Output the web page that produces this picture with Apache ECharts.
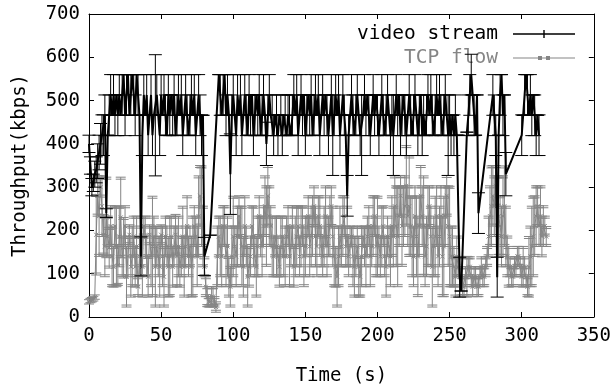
<!DOCTYPE html>
<html>
<head>
<meta charset="utf-8">
<script src="https://cdn.jsdelivr.net/npm/echarts@6/dist/echarts.min.js"></script>
<style>
  html, body { margin: 0; padding: 0; background: #fff; }
  #chart { width: 614px; height: 391px; }
</style>
</head>
<body>
<div id="chart"></div>
<script>
// video stream: time (s), throughput (kbps), error (kbps); gaps = no samples
const videoT = [
  0, 1, 2, 3, 4, 5, 6, 7, 8, 9, 10, 11, 12, 13, 14, 15, 16, 17, 18, 19,
  20, 21, 22, 23, 24, 25, 26, 27, 28, 29, 30, 31, 32, 33, 34, 35, 36, 37, 38, 39,
  40, 41, 42, 43, 44, 45, 46, 47, 48, 49, 50, 51, 52, 53, 54, 55, 56, 57, 58, 59,
  60, 61, 62, 63, 64, 65, 66, 67, 68, 69, 70, 71, 72, 73, 74, 75, 76, 77, 78, 79,
  80, 84,
  90, 91, 92, 93, 94, 95, 96, 97, 98, 99, 100, 101, 102, 103, 104, 105, 106, 107, 108, 109,
  110, 111, 112, 113, 114, 115, 116, 117, 118, 119, 120, 121, 122, 123, 124, 125, 126, 127, 128, 129,
  130, 131, 132, 133, 134, 135, 136, 137, 138, 139, 140, 141, 142, 143, 144, 145, 146, 147, 148, 149,
  150, 151, 152, 153, 154, 155, 156, 157, 158, 159, 160, 161, 162, 163, 164, 165, 166, 167, 168, 169,
  170, 171, 172, 173, 174, 175, 176, 177, 178, 179, 180, 181, 182, 183, 184, 185, 186, 187, 188, 189,
  190, 191, 192, 193, 194, 195, 196, 197, 198, 199, 200, 201, 202, 203, 204, 205, 206, 207, 208, 209,
  210, 211, 212, 213, 214, 215, 216, 217, 218, 219, 220, 221, 222, 223, 224, 225, 226, 227, 228, 229,
  230, 231, 232, 233, 234, 235, 236, 237, 238, 239, 240, 241, 242, 243, 244, 245, 246, 247, 248, 249,
  250, 251, 252, 253, 254, 255, 256, 257, 258,
  262, 263, 264, 265, 266, 267, 268, 269, 270,
  280, 281, 282, 283, 284, 285, 286, 287, 288, 289,
  300, 301, 302, 303, 304, 305, 306, 307, 308, 309, 310, 311, 312];
const videoV = [
  400, 350, 300, 310, 330, 340, 360, 380, 400, 420, 420, 466, 240, 420, 466, 513, 466, 513, 466, 513,
  466, 513, 466, 513, 560, 466, 513, 560, 466, 513, 560, 513, 466, 560, 513, 466, 140, 420, 513, 466,
  513, 420, 466, 513, 420, 466, 466, 513, 466, 420, 513, 466, 513, 466, 420, 513, 466, 513, 466, 513,
  420, 466, 513, 466, 513, 420, 466, 513, 466, 420, 466, 513, 466, 513, 420, 466, 513, 466, 420, 466,
  140, 189,
  560, 513, 466, 513, 560, 466, 513, 466, 330, 466, 513, 466, 420, 513, 466, 513, 420, 466, 513, 466,
  420, 513, 466, 513, 420, 466, 513, 466, 513, 420, 466, 513, 466, 400, 466, 513, 466, 466, 420, 466,
  466, 420, 466, 466, 420, 466, 466, 420, 466, 466, 420, 466, 513, 466, 513, 420, 466, 513, 466, 513,
  420, 466, 513, 466, 513, 420, 466, 513, 466, 513, 420, 466, 513, 466, 513, 466, 420, 466, 513, 420,
  466, 513, 466, 513, 420, 466, 513, 466, 420, 280, 420, 466, 513, 466, 420, 466, 513, 466, 420, 420,
  466, 513, 466, 513, 466, 420, 466, 513, 466, 513, 466, 420, 466, 513, 466, 420, 466, 513, 466, 420,
  466, 420, 466, 513, 466, 513, 420, 466, 513, 466, 420, 466, 513, 466, 420, 466, 513, 466, 420, 466,
  513, 420, 466, 420, 466, 513, 466, 513, 466, 420, 466, 513, 466, 513, 466, 420, 466, 513, 466, 420,
  466, 420, 466, 420, 466, 420, 420, 92, 60,
  427, 466, 513, 560, 513, 466, 420, 513, 240,
  513, 466, 420, 92, 420, 513, 560, 466, 513, 330,
  420, 466, 513, 560, 513, 466, 513, 466, 513, 466, 420, 466, 420];
const videoE = [
  20, 20, 20, 20, 30, 30, 40, 40, 47, 47, 47, 47, 10, 0, 47, 47, 0, 47, 47, 0,
  47, 47, 0, 47, 0, 47, 47, 0, 0, 47, 0, 47, 47, 0, 47, 0, 45, 47, 47, 0,
  47, 47, 0, 47, 47, 0, 140, 47, 0, 47, 47, 0, 47, 47, 0, 47, 47, 0, 47, 47,
  0, 47, 47, 0, 47, 47, 0, 47, 47, 0, 47, 47, 0, 47, 47, 0, 47, 47, 47, 0,
  44, 0,
  0, 47, 0, 47, 0, 47, 47, 0, 93, 47, 47, 0, 47, 47, 0, 47, 47, 0, 47, 47,
  0, 47, 47, 0, 47, 47, 0, 47, 47, 0, 47, 47, 0, 50, 47, 47, 0, 47, 47, 0,
  47, 47, 0, 47, 47, 0, 47, 0, 47, 47, 0, 47, 47, 0, 47, 47, 0, 47, 47, 0,
  47, 47, 0, 47, 47, 0, 47, 47, 0, 47, 47, 0, 47, 47, 0, 47, 47, 0, 47, 93,
  47, 47, 0, 47, 47, 0, 47, 47, 0, 47, 47, 0, 47, 47, 0, 47, 47, 0, 47, 93,
  0, 47, 47, 0, 47, 47, 0, 47, 47, 0, 47, 47, 0, 47, 47, 0, 47, 47, 0, 47,
  47, 93, 0, 47, 47, 0, 47, 47, 0, 47, 47, 0, 47, 47, 0, 47, 47, 0, 47, 47,
  0, 47, 47, 0, 47, 47, 0, 47, 47, 0, 47, 47, 0, 47, 47, 0, 47, 47, 0, 93,
  47, 47, 0, 47, 47, 0, 0, 46, 0,
  0, 47, 47, 47, 0, 47, 0, 0, 47,
  47, 47, 47, 46, 0, 47, 0, 47, 0, 50,
  47, 0, 47, 0, 47, 0, 47, 47, 0, 47, 47, 0, 47];

// TCP flow: one sample per second from t = 0 s
const tcpV = [
  35, 38, 40, 42, 46, 190, 280, 233, 300, 256, 190, 163, 230, 186, 160, 210, 140, 116, 210, 163,
  120, 186, 230, 140, 160, 210, 93, 140, 190, 116, 140, 186, 116, 163, 70, 140, 163, 116, 210, 186,
  140, 93, 190, 140, 163, 186, 116, 163, 140, 116, 190, 140, 93, 186, 163, 116, 140, 186, 116, 163,
  190, 140, 163, 116, 140, 186, 116, 163, 210, 140, 163, 116, 140, 210, 186, 140, 233, 280, 256, 186,
  116, 70, 47, 35, 35, 47, 47, 35, 23, 140, 186, 163, 140, 210, 210, 140, 163, 93, 70, 140,
  186, 163, 140, 186, 233, 186, 163, 116, 210, 163, 93, 116, 140, 210, 186, 140, 116, 163, 233, 186,
  163, 210, 256, 210, 280, 233, 210, 163, 140, 186, 163, 140, 116, 163, 186, 140, 140, 186, 210, 140,
  163, 210, 116, 163, 186, 210, 140, 186, 210, 140, 163, 186, 233, 163, 186, 210, 256, 186, 163, 233,
  210, 163, 140, 186, 233, 163, 186, 210, 256, 186, 140, 116, 93, 140, 186, 163, 210, 233, 163, 186,
  140, 163, 186, 140, 116, 140, 163, 116, 93, 140, 186, 163, 140, 186, 210, 140, 163, 210, 233, 163,
  186, 163, 140, 186, 210, 140, 116, 186, 163, 140, 210, 186, 256, 210, 186, 233, 280, 210, 233, 256,
  303, 233, 256, 210, 186, 140, 233, 186, 140, 210, 280, 233, 210, 140, 163, 210, 256, 186, 116, 163,
  186, 233, 140, 186, 233, 140, 163, 233, 280, 210, 186, 140, 140, 116, 93, 140, 116, 93, 93, 70,
  70, 93, 93, 116, 116, 93, 70, 93, 93, 70, 70, 93, 116, 93, 93, 116, 140, 186, 233, 256,
  280, 256, 303, 256, 233, 210, 186, 233, 256, 186, 140, 116, 116, 93, 93, 116, 116, 140, 140, 116,
  93, 116, 116, 93, 70, 116, 140, 163, 186, 210, 233, 256, 210, 233, 186, 210, 210, 186];
const tcpE = [
  5, 5, 5, 5, 5, 93, 47, 93, 23, 70, 47, 70, 93, 47, 47, 47, 70, 47, 47, 93,
  47, 70, 93, 47, 70, 47, 70, 47, 23, 70, 70, 47, 47, 70, 23, 47, 47, 70, 23, 47,
  47, 47, 23, 70, 116, 47, 93, 47, 47, 70, 23, 70, 70, 47, 47, 70, 93, 47, 47, 47,
  47, 70, 70, 47, 47, 70, 70, 47, 70, 47, 47, 70, 93, 47, 47, 70, 93, 70, 93, 70,
  23, 23, 23, 12, 12, 23, 23, 12, 12, 70, 47, 70, 70, 47, 47, 70, 70, 47, 47, 70,
  93, 47, 70, 70, 47, 70, 93, 70, 70, 47, 70, 47, 47, 47, 70, 47, 70, 70, 47, 47,
  70, 47, 70, 93, 70, 70, 47, 70, 47, 47, 70, 47, 47, 70, 47, 47, 70, 47, 47, 70,
  47, 47, 47, 70, 70, 47, 47, 70, 47, 70, 70, 47, 47, 70, 70, 70, 47, 70, 70, 47,
  70, 47, 47, 70, 70, 70, 47, 70, 47, 70, 70, 47, 70, 70, 70, 47, 70, 47, 47, 70,
  47, 47, 23, 70, 70, 47, 47, 70, 47, 70, 23, 47, 70, 47, 47, 70, 47, 70, 47, 70,
  93, 47, 47, 70, 47, 47, 70, 47, 47, 70, 70, 70, 70, 93, 116, 70, 47, 93, 70, 70,
  93, 70, 116, 70, 93, 70, 70, 93, 93, 70, 70, 70, 116, 70, 70, 93, 47, 70, 93, 70,
  93, 70, 70, 70, 70, 93, 116, 70, 47, 93, 116, 70, 70, 47, 47, 47, 23, 47, 23, 23,
  23, 23, 47, 23, 23, 23, 23, 23, 23, 23, 23, 23, 23, 23, 23, 23, 23, 47, 70, 93,
  70, 70, 47, 70, 93, 70, 70, 93, 93, 70, 47, 47, 23, 23, 23, 23, 23, 23, 23, 23,
  23, 47, 23, 23, 23, 70, 70, 93, 93, 70, 70, 47, 47, 70, 47, 47, 23, 23];
const tcpT = tcpV.map((_, i) => i);

const xTicks = { min: 0, max: 350, interval: 50 };
const yTicks = { min: 0, max: 700, interval: 100 };

const FONT = 'DejaVu Sans Mono';
const GRAY = '#858585';

const zip = (t, v, e) => t.map((x, i) => [x, v[i], e[i]]);
const videoData = zip(videoT, videoV, videoE);
const tcpData = zip(tcpT, tcpV, tcpE);

// gnuplot-like y error bars; the TCP caps are doubled like the source's "=" marks
const errorBars = (color, hw, gray) => (params, api) => {
  const x = api.value(0), v = api.value(1), e = api.value(2);
  const hi = api.coord([x, v + e]);
  const lo = api.coord([x, v - e]);
  const mid = api.coord([x, v]);
  const st = { stroke: color, lineWidth: 1 };
  const x0 = hi[0];
  const cap = (y) => ({ type: 'line', shape: { x1: x0 - hw, y1: y, x2: x0 + hw, y2: y }, style: st });
  const kids = [
    { type: 'line', shape: { x1: hi[0], y1: hi[1], x2: lo[0], y2: lo[1] }, style: st },
    cap(hi[1]), cap(lo[1])
  ];
  if (gray) {
    if (lo[1] - hi[1] > 6) {
      kids.push(cap(hi[1] + 2), cap(lo[1] - 2));
    }
    const r = 2;
    kids.push({ type: 'line', shape: { x1: mid[0] - r, y1: mid[1] - r, x2: mid[0] + r, y2: mid[1] + r }, style: st });
    kids.push({ type: 'line', shape: { x1: mid[0] - r, y1: mid[1] + r, x2: mid[0] + r, y2: mid[1] - r }, style: st });
  }
  return { type: 'group', children: kids };
};

const axisCommon = {
  axisLine: { show: true, onZero: false, lineStyle: { color: '#000', width: 1 } },
  axisTick: { show: true, inside: true, length: 5, lineStyle: { color: '#000' } },
  splitLine: { show: false }
};

const chart = echarts.init(document.getElementById('chart'));
chart.setOption({
  animation: false,
  backgroundColor: '#fff',
  grid: { left: 89, right: 16, top: 14, bottom: 69 },
  legend: [
    {
      data: ['video stream'], selectedMode: false,
      right: 34, top: 19, align: 'right',
      itemWidth: 62, itemHeight: 8,
      icon: 'path://M0,3.3h62v1.4h-62z M30.3,0h1.4v8h-1.4z',
      textStyle: { fontFamily: FONT, fontSize: 19.5, color: '#000', padding: [0, 10, 0, 0] }
    },
    {
      data: ['TCP flow'], selectedMode: false,
      right: 34, top: 43, align: 'right',
      itemWidth: 62, itemHeight: 8,
      icon: 'path://M0,3.5h62v1h-62z M25,2h4v4h-4z M33,2h4v4h-4z',
      textStyle: { fontFamily: FONT, fontSize: 19.5, color: GRAY, padding: [0, 10, 0, 0] }
    }
  ],
  xAxis: [
    Object.assign({
      type: 'value', position: 'bottom', ...xTicks,
      name: 'Time (s)', nameLocation: 'middle', nameGap: 50,
      nameTextStyle: { fontFamily: FONT, fontSize: 19, color: '#000' },
      axisLabel: { fontFamily: FONT, fontSize: 19, color: '#000', margin: 10 }
    }, axisCommon),
    Object.assign({
      type: 'value', position: 'top', ...xTicks,
      axisLabel: { show: false }
    }, axisCommon)
  ],
  yAxis: [
    Object.assign({
      type: 'value', position: 'left', ...yTicks,
      name: 'Throughput(kbps)', nameLocation: 'middle', nameGap: 59,
      nameTextStyle: { fontFamily: FONT, fontSize: 19, color: '#000' },
      axisLabel: { fontFamily: FONT, fontSize: 19, color: '#000', margin: 9 }
    }, axisCommon),
    Object.assign({
      type: 'value', position: 'right', ...yTicks,
      axisLabel: { show: false }
    }, axisCommon)
  ],
  series: [
    {
      name: 'TCP flow bars', type: 'custom', z: 2,
      renderItem: errorBars(GRAY, 5, true),
      data: tcpData, encode: { x: 0, y: 1 }
    },
    {
      name: 'TCP flow', type: 'line', z: 3,
      data: tcpData.map(d => [d[0], d[1]]),
      showSymbol: false, symbol: 'none',
      itemStyle: { color: GRAY },
      lineStyle: { color: GRAY, width: 1 }
    },
    {
      name: 'video stream bars', type: 'custom', z: 4,
      renderItem: errorBars('#000', 6.5, false),
      data: videoData, encode: { x: 0, y: 1 }
    },
    {
      name: 'video stream', type: 'line', z: 5,
      data: videoData.map(d => [d[0], d[1]]),
      showSymbol: false, symbol: 'none',
      itemStyle: { color: '#000' },
      lineStyle: { color: '#000', width: 2 }
    }
  ]
});
</script>
</body>
</html>
